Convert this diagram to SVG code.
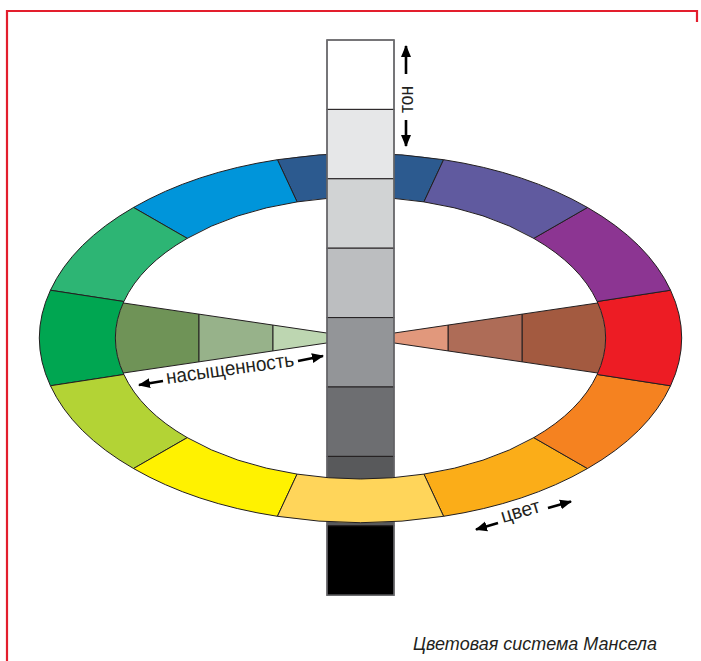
<svg xmlns="http://www.w3.org/2000/svg" width="701" height="661" viewBox="0 0 701 661">
<style>
.seg{stroke:#231f20;stroke-width:1;stroke-linejoin:round}
.wedge{stroke:#231f20;stroke-width:1}
.col{stroke:#231f20;stroke-width:1}
.lbl{font-family:"Liberation Sans",Arial,sans-serif;font-size:20px;fill:#231f20}
.cap{font-family:"Liberation Sans",Arial,sans-serif;font-size:19px;font-style:italic;fill:#231f20}
.arr{stroke:#000;stroke-width:2.6;fill:none;marker-end:url(#ah)}
</style>
<defs>
<marker id="ah" markerUnits="userSpaceOnUse" markerWidth="13" markerHeight="13" viewBox="0 0 13 13" refX="11" refY="6.5" orient="auto">
<path d="M0,1.5 L12,6.5 L0,11.5 Z" fill="#000"/>
</marker>
<clipPath id="inner"><ellipse cx="360.5" cy="338" rx="245" ry="140.9"/></clipPath>
</defs>
<rect width="701" height="661" fill="#fff"/>
<path d="M7,661 V11 H697 V22" fill="none" stroke="#e31e2d" stroke-width="2.2"/>

<g id="saturation-wedges" clip-path="url(#inner)">
<g id="wedge-left">
<polygon class="wedge" points="100,299.53 199,314.15 199,361.85 100,376.47" fill="#6f9357"/>
<polygon class="wedge" points="199,314.15 273,325.08 273,350.92 199,361.85" fill="#97b28a"/>
<polygon class="wedge" points="273,325.08 360.5,338 273,350.92" fill="#bdd6b1"/>
</g>
<g id="wedge-right">
<polygon class="wedge" points="621,299.53 522,314.15 522,361.85 621,376.47" fill="#a35a40"/>
<polygon class="wedge" points="522,314.15 448,325.08 448,350.92 522,361.85" fill="#ae6c57"/>
<polygon class="wedge" points="448,325.08 360.5,338 448,350.92" fill="#e1987c"/>
</g>
</g>

<g id="hue-ring">
<path id="h090" class="seg" fill="#2c5a8f" d="M443.58,159.69 A321,184.6 0 0 0 277.42,159.69 L297.09,201.9 A245,140.9 0 0 1 423.91,201.9 Z"/>
<path id="h120" class="seg" fill="#0095da" d="M277.42,159.69 A321,184.6 0 0 0 133.52,207.47 L187.26,238.37 A245,140.9 0 0 1 297.09,201.9 Z"/>
<path id="h150" class="seg" fill="#2db574" d="M133.52,207.47 A321,184.6 0 0 0 50.44,290.22 L123.85,301.53 A245,140.9 0 0 1 187.26,238.37 Z"/>
<path id="h180" class="seg" fill="#00a651" d="M50.44,290.22 A321,184.6 0 0 0 50.44,385.78 L123.85,374.47 A245,140.9 0 0 1 123.85,301.53 Z"/>
<path id="h210" class="seg" fill="#b3d335" d="M50.44,385.78 A321,184.6 0 0 0 133.52,468.53 L187.26,437.63 A245,140.9 0 0 1 123.85,374.47 Z"/>
<path id="h240" class="seg" fill="#fff200" d="M133.52,468.53 A321,184.6 0 0 0 277.42,516.31 L297.09,474.1 A245,140.9 0 0 1 187.26,437.63 Z"/>
<path id="h300" class="seg" fill="#fbad18" d="M443.58,516.31 A321,184.6 0 0 0 587.48,468.53 L533.74,437.63 A245,140.9 0 0 1 423.91,474.1 Z"/>
<path id="h330" class="seg" fill="#f58220" d="M587.48,468.53 A321,184.6 0 0 0 670.56,385.78 L597.15,374.47 A245,140.9 0 0 1 533.74,437.63 Z"/>
<path id="h000" class="seg" fill="#ed1c24" d="M670.56,385.78 A321,184.6 0 0 0 670.56,290.22 L597.15,301.53 A245,140.9 0 0 1 597.15,374.47 Z"/>
<path id="h030" class="seg" fill="#8c3592" d="M670.56,290.22 A321,184.6 0 0 0 587.48,207.47 L533.74,238.37 A245,140.9 0 0 1 597.15,301.53 Z"/>
<path id="h060" class="seg" fill="#605a9f" d="M587.48,207.47 A321,184.6 0 0 0 443.58,159.69 L423.91,201.9 A245,140.9 0 0 1 533.74,238.37 Z"/>
</g>

<g id="value-column">
<rect class="col" x="327" y="40" width="67" height="69.4" fill="#ffffff"/>
<rect class="col" x="327" y="109.4" width="67" height="69.4" fill="#e6e7e8"/>
<rect class="col" x="327" y="178.8" width="67" height="69.4" fill="#d1d3d4"/>
<rect class="col" x="327" y="248.2" width="67" height="69.4" fill="#bcbec0"/>
<rect class="col" x="327" y="317.6" width="67" height="69.4" fill="#939598"/>
<rect class="col" x="327" y="387" width="67" height="69.4" fill="#6d6e71"/>
<rect class="col" x="327" y="456.4" width="67" height="69.4" fill="#58595b"/>
<rect class="col" x="327" y="525.8" width="67" height="69.4" fill="#000000"/>
<rect x="327" y="40" width="67" height="555.2" fill="none" stroke="#6d6e71" stroke-width="1.5"/>
</g>

<g id="hue-front">
<path id="h270" class="seg" fill="#ffd55a" d="M277.42,516.31 A321,184.6 0 0 0 443.58,516.31 L423.91,474.1 A245,140.9 0 0 1 297.09,474.1 Z"/>
</g>

<g id="connectors">
<line class="arr" x1="406" y1="74" x2="406" y2="46"/>
<line class="arr" x1="406" y1="120" x2="406" y2="146"/>
<line class="arr" x1="163" y1="381" x2="139" y2="385"/>
<line class="arr" x1="298" y1="361" x2="323" y2="356"/>
<line class="arr" x1="498" y1="523" x2="476" y2="529.5"/>
<line class="arr" x1="548" y1="508" x2="571" y2="501.5"/>
</g>

<g id="labels">
<text class="lbl" transform="translate(412.5,113) rotate(-90)" textLength="27" lengthAdjust="spacingAndGlyphs">тон</text>
<text class="lbl" transform="translate(167,384) rotate(-8)" textLength="129" lengthAdjust="spacingAndGlyphs">насыщенность</text>
<text class="lbl" transform="translate(503,523) rotate(-16.5)" textLength="40" lengthAdjust="spacingAndGlyphs">цвет</text>
<text class="cap" x="413" y="650" textLength="244" lengthAdjust="spacingAndGlyphs">Цветовая система Мансела</text>
</g>
</svg>
